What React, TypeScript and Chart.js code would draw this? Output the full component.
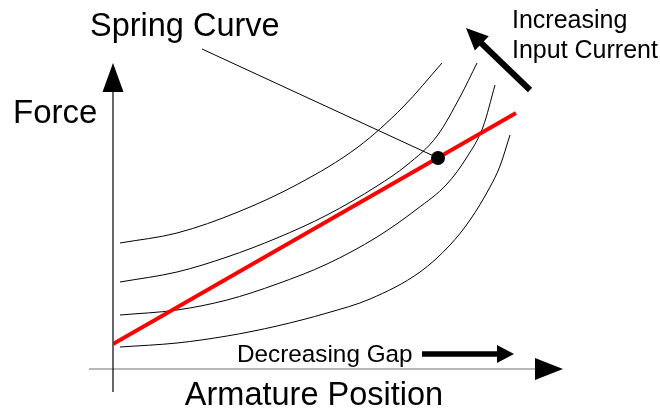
import React, { useEffect, useRef } from "react";
import { Chart, registerables } from "chart.js";

Chart.register(...registerables);

// Armature position (x) vs force (y), arbitrary units
const curve1: [number, number][] = [
  [7, 126], [64, 136], [125, 157], [185, 185], [245, 222], [290, 262], [329, 306],
];
const curve2: [number, number][] = [
  [7, 87], [64, 97], [114, 112], [164, 131], [214, 154], [264, 183], [294, 204], [324, 233], [347, 272], [364, 306],
];
const curve3: [number, number][] = [
  [7, 54], [64, 59], [114, 69], [164, 85], [214, 105], [264, 132], [304, 160], [334, 185], [354, 212], [370, 242], [382, 284],
];
const curve4: [number, number][] = [
  [7, 22], [64, 26], [114, 33], [164, 43], [214, 56], [257, 70], [307, 97], [337, 124], [357, 149], [377, 182], [387, 203], [397, 234],
];
const springLine: [number, number][] = [
  [0, 25], [403, 256],
];
const operatingPoint: [number, number][] = [[325, 211]];
const pointerLine: [number, number][] = [
  [89, 320], [325, 211],
];

const xRange = [0, 450];
const yRange = [0, 306];

const toPts = (a: [number, number][]) => a.map(([x, y]) => ({ x, y }));

const FONT = "'Liberation Sans', Arial, sans-serif";

function arrowHead(ctx: CanvasRenderingContext2D, tipX: number, tipY: number, fromX: number, fromY: number, len: number, half: number) {
  const dx = tipX - fromX;
  const dy = tipY - fromY;
  const d = Math.hypot(dx, dy);
  const ux = dx / d;
  const uy = dy / d;
  const bx = tipX - ux * len;
  const by = tipY - uy * len;
  ctx.beginPath();
  ctx.moveTo(tipX, tipY);
  ctx.lineTo(bx - uy * half, by + ux * half);
  ctx.lineTo(bx + uy * half, by - ux * half);
  ctx.closePath();
  ctx.fill();
}

const decorPlugin = {
  id: "decor",
  beforeDatasetsDraw(chart: any) {
    const ctx: CanvasRenderingContext2D = chart.ctx;
    const xs = chart.scales.x;
    const ys = chart.scales.y;
    const ox = xs.getPixelForValue(0);
    const oy = ys.getPixelForValue(0);
    const top = ys.getPixelForValue(yRange[1]);
    const right = xs.getPixelForValue(xRange[1]);
    ctx.save();
    // x axis
    ctx.strokeStyle = "#707070";
    ctx.lineWidth = 1.2;
    ctx.beginPath();
    ctx.moveTo(ox - 24, oy);
    ctx.lineTo(right - 26, oy);
    ctx.stroke();
    ctx.fillStyle = "#000";
    arrowHead(ctx, right, oy, ox, oy, 28, 11);
    // y axis
    ctx.strokeStyle = "#000";
    ctx.lineWidth = 1.2;
    ctx.beginPath();
    ctx.moveTo(ox, oy + 23);
    ctx.lineTo(ox, top + 27);
    ctx.stroke();
    arrowHead(ctx, ox, top, ox, oy, 29, 10.5);
    ctx.restore();
  },
  afterDatasetsDraw(chart: any) {
    const ctx: CanvasRenderingContext2D = chart.ctx;
    ctx.save();
    ctx.fillStyle = "#000";
    ctx.textBaseline = "alphabetic";
    ctx.textAlign = "left";
    ctx.font = `32.5px ${FONT}`;
    ctx.fillText("Spring Curve", 90, 36);
    ctx.font = `33px ${FONT}`;
    ctx.fillText("Force", 13, 123);
    ctx.font = `32.5px ${FONT}`;
    ctx.textAlign = "center";
    ctx.fillText("Armature Position", 314, 405);
    ctx.textAlign = "left";
    ctx.font = `24.3px ${FONT}`;
    ctx.fillText("Decreasing Gap", 237, 362);
    ctx.font = `25px ${FONT}`;
    ctx.fillText("Increasing", 512, 28);
    ctx.fillText("Input Current", 512, 58);

    // Decreasing gap arrow
    ctx.strokeStyle = "#000";
    ctx.lineWidth = 5.5;
    ctx.beginPath();
    ctx.moveTo(422, 354);
    ctx.lineTo(500, 354);
    ctx.stroke();
    arrowHead(ctx, 514, 354, 422, 354, 17, 9);

    // Increasing current arrow
    ctx.lineWidth = 6;
    ctx.beginPath();
    ctx.moveTo(530, 90);
    ctx.lineTo(478, 40);
    ctx.stroke();
    arrowHead(ctx, 466, 28, 530, 90, 22, 10);
    ctx.restore();
  },
};

export default function App() {
  const ref = useRef<HTMLCanvasElement>(null);
  useEffect(() => {
    if (!ref.current) return;
    const thin = (data: [number, number][]) => ({
      data: toPts(data),
      borderColor: "#000",
      borderWidth: 1,
      pointRadius: 0,
      cubicInterpolationMode: "monotone" as const,
      fill: false,
      order: 3,
    });
    const chart = new Chart(ref.current, {
      type: "line",
      data: {
        datasets: [
          thin(curve1),
          thin(curve2),
          thin(curve3),
          thin(curve4),
          { ...thin(pointerLine), clip: false as any, order: 2 },
          {
            data: toPts(springLine),
            borderColor: "#ff0000",
            borderWidth: 3.8,
            pointRadius: 0,
            fill: false,
            order: 1,
          },
          {
            data: toPts(operatingPoint),
            showLine: false,
            pointStyle: "circle",
            pointRadius: 7,
            pointBackgroundColor: "#000000",
            pointBorderColor: "#000000",
            pointBorderWidth: 0,
            backgroundColor: "#000000",
            borderColor: "#000000",
            order: 0,
          },
        ] as any,
      },
      options: {
        animation: false,
        responsive: false,
        parsing: true,
        layout: { padding: { left: 113, right: 97, top: 63, bottom: 46 } },
        scales: {
          x: { type: "linear", min: xRange[0], max: xRange[1], display: false },
          y: { type: "linear", min: yRange[0], max: yRange[1], display: false },
        },
        plugins: { legend: { display: false }, tooltip: { enabled: false } },
        events: [],
      },
      plugins: [decorPlugin],
    });
    return () => chart.destroy();
  }, []);
  return (
    <div style={{ position: "fixed", left: 0, top: 0, width: 660, height: 415, background: "#fff" }}>
      <canvas ref={ref} width={660} height={415} />
    </div>
  );
}
